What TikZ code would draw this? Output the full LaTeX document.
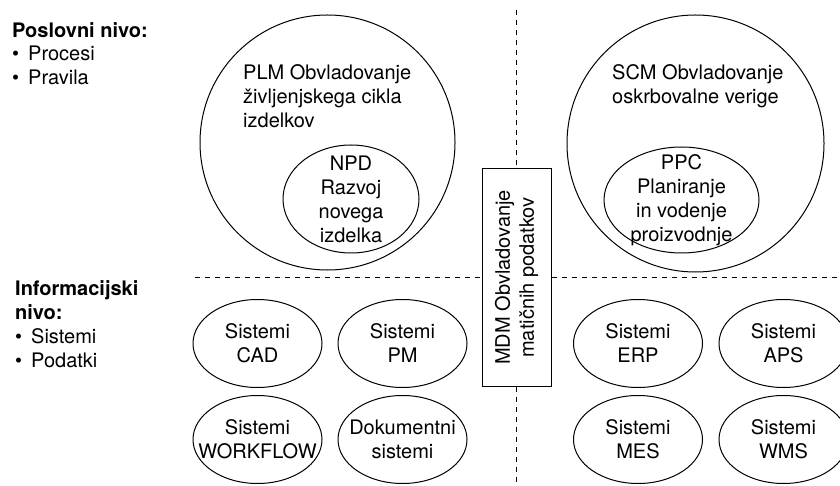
\documentclass[tikz,border=0pt]{standalone}
\usepackage{fontspec}
\setmainfont{TeX Gyre Heros}
\usetikzlibrary{shapes.geometric}
\newcommand{\bul}{\makebox[16pt][l]{•}}
\tikzset{
  txt/.style={font=\fontsize{20}{24}\selectfont, inner sep=0pt},
  lbl/.style={txt, align=center},
  lefttxt/.style={font=\fontsize{20}{23.5}\selectfont, inner sep=0pt, align=left, anchor=west},
  ell/.style={ellipse, draw, line width=1pt, inner sep=0pt},
  sysell/.style={ell, minimum width=129pt, minimum height=88pt},
  bigcirc/.style={circle, draw, line width=1pt, inner sep=0pt},
  sepline/.style={dash pattern=on 5pt off 5pt, line width=0.9pt},
  mdmbox/.style={rectangle, draw, line width=1pt, inner sep=0pt, align=center, txt}
}
\begin{document}
\begin{tikzpicture}[x=1pt,y=-1pt]
\useasboundingbox (0,0) rectangle (840,486);

% left labels
\node[lefttxt] (posl) at (12,53.5) {\textbf{Poslovni nivo:}\\\bul Procesi\\\bul Pravila};
\node[lefttxt, font=\fontsize{20}{24}\selectfont] (info) at (15,324) {\textbf{Informacijski}\\\textbf{nivo:}\\\bul Sistemi\\\bul Podatki};

% PLM
\node[bigcirc, minimum size=255pt] (plm) at (327.5,142.5) {};
\node[txt, align=left, anchor=west] (plmtxt) at (243,96) {PLM Obvladovanje\\življenjskega cikla\\izdelkov};
\node[ell, minimum width=136pt, minimum height=108pt, label={[lbl]center:{NPD\\Razvoj\\novega\\izdelka}}] (npd) at (351,199) {};

% SCM
\node[bigcirc, minimum size=257pt] (scm) at (695.5,143.5) {};
\node[txt, align=left, anchor=west] (scmtxt) at (612,86) {SCM Obvladovanje\\oskrbovalne verige};
\node[ell, minimum width=155pt, minimum height=106pt, label={[lbl]center:{PPC\\Planiranje\\in vodenje\\proizvodnje}}] (ppc) at (681.5,200) {};

% MDM box
\node[mdmbox, rotate=90, minimum width=217pt, minimum height=69pt] (mdm) at (516.5,277.5) {MDM Obvladovanje\\matičnih podatkov};

% separators
\coordinate (vtop) at (516.5,10);
\coordinate (vbot) at (516.5,486);
\coordinate (hleft) at (195,277.5);
\coordinate (hright) at (840,277.5);
\draw[sepline] (vtop) -- (mdm.east);
\draw[sepline] (mdm.west) -- (vbot);
\draw[sepline] (hleft) -- (mdm.north);
\draw[sepline] (mdm.south) -- (hright);

% systems
\node[sysell, label={[lbl]center:{Sistemi\\CAD}}] (cad) at (257.5,343.5) {};
\node[sysell, label={[lbl]center:{Sistemi\\PM}}] (pm) at (402.5,343.5) {};
\node[sysell, label={[lbl]center:{Sistemi\\WORKFLOW}}] (wf) at (257.5,439.5) {};
\node[sysell, label={[lbl]center:{Dokumentni\\sistemi}}] (dok) at (402.5,439.5) {};
\node[sysell, label={[lbl]center:{Sistemi\\ERP}}] (erp) at (638,343.5) {};
\node[sysell, label={[lbl]center:{Sistemi\\APS}}] (aps) at (783.5,343.5) {};
\node[sysell, label={[lbl]center:{Sistemi\\MES}}] (mes) at (638,439.5) {};
\node[sysell, label={[lbl]center:{Sistemi\\WMS}}] (wms) at (783.5,439.5) {};
\end{tikzpicture}
\end{document}
